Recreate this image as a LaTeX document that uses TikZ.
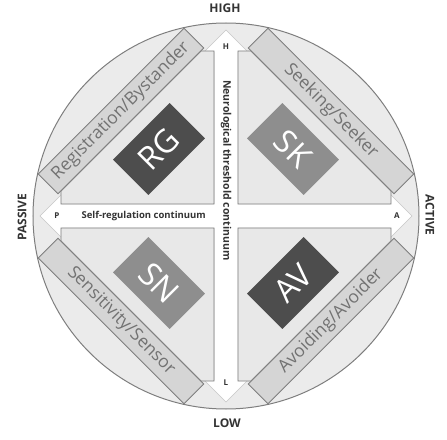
\documentclass[tikz,border=0pt]{standalone}
\usepackage{fontspec}
\setmainfont{Open Sans}

\definecolor{fondo}{HTML}{EBEBEB}
\definecolor{quadro}{HTML}{E8E8E8}
\definecolor{grigiofascia}{HTML}{D5D5D5}
\definecolor{bordo}{HTML}{7E7E7E}
\definecolor{scuro}{HTML}{4D4D4D}
\definecolor{medio}{HTML}{8E8E8E}
\definecolor{testofascia}{HTML}{727272}
\definecolor{etichetta}{HTML}{333333}

\begin{document}
\begin{tikzpicture}[x=1pt, y=1pt]
        
        % Margini della figura
        \useasboundingbox (-226,-223) rectangle (221,216);
        
        % Stili per quadranti, fasce, blocchi ed etichette
        \tikzset{
            quadrante/.style={draw=bordo, fill=quadro, line width=0.9pt},
            fascia/.style={draw=bordo, fill=grigiofascia, line width=0.9pt, minimum width=206, minimum height=28, inner sep=0pt, text=testofascia, font=\fontsize{17.5}{18}\selectfont},
            blocco/.style={minimum width=80, minimum height=50, inner sep=0pt, text=white, font=\fontsize{32}{32}\selectfont},
            asse/.style={font=\bfseries\fontsize{12}{12}\selectfont, text=etichetta},
            lettera/.style={font=\bfseries\fontsize{8}{8}\selectfont, text=etichetta},
            continuum/.style={font=\bfseries\fontsize{9.5}{10}\selectfont, text=etichetta, inner sep=0pt}
        }
        
        % Cerchio di sfondo
        \draw[bordo, fill=fondo, line width=1pt] (0,0) circle (193);
        
        % Freccia doppia bianca: i due assi
        \draw[gray!45, fill=white, line width=0.5pt]
            (-186,0) -- (-164,22) -- (-164,12) -- (-12,12) -- (-12,164) -- (-22,164) -- (0,186)
            -- (22,164) -- (12,164) -- (12,12) -- (164,12) -- (164,22) -- (186,0)
            -- (164,-22) -- (164,-12) -- (12,-12) -- (12,-164) -- (22,-164) -- (0,-186)
            -- (-22,-164) -- (-12,-164) -- (-12,-12) -- (-164,-12) -- (-164,-22) -- cycle;
        
        % Quadranti con l'angolo tagliato dalla fascia
        \foreach \sx/\sy in {-1/1, 1/1, -1/-1, 1/-1} {
            \draw[quadrante] ({12*\sx},{12*\sy}) -- ({165*\sx},{12*\sy}) -- ({165*\sx},{25*\sy})
                -- ({25*\sx},{165*\sy}) -- ({12*\sx},{165*\sy}) -- cycle;
        }
        
        % Fasce diagonali
        \node[fascia, rotate=45]  (regBys) at (-105, 105) {Registration/Bystander};
        \node[fascia, rotate=-45] (seeSee) at (105, 105)  {Seeking/Seeker};
        \node[fascia, rotate=-45] (senSen) at (-105,-105) {Sensitivity/Sensor};
        \node[fascia, rotate=45]  (avoAvo) at (105,-105)  {Avoiding/Avoider};
        
        % Blocchi dei quattro profili
        \node[blocco, fill=scuro, rotate=45]  (RG) at (-67, 67) {RG};
        \node[blocco, fill=medio, rotate=-45] (SK) at (67, 67)  {SK};
        \node[blocco, fill=medio, rotate=-45] (SN) at (-67,-67) {SN};
        \node[blocco, fill=scuro, rotate=45]  (AV) at (67,-67)  {AV};
        
        % Nomi dei due continuum
        \node[continuum, anchor=east] (autoReg) at (-20, 0) {Self-regulation continuum};
        \node[continuum, rotate=-90, anchor=west, font=\bfseries\fontsize{10.5}{11}\selectfont] (soglia) at (0, 136) {Neurological threshold continuum};
        
        % Lettere alle punte della freccia
        \node[lettera] (P) at (-169, 0) {P};
        \node[lettera] (A) at (171, 0)  {A};
        \node[lettera] (H) at (0, 169)  {H};
        \node[lettera] (L) at (0, -167) {L};
        
        % Etichette esterne
        \node[asse] (alto) at (-1, 208) {HIGH};
        \node[asse] (basso) at (1, -207) {LOW};
        \node[asse, rotate=90]  (passivo) at (-204, -1) {PASSIVE};
        \node[asse, rotate=-90] (attivo) at (204, 1)    {ACTIVE};
        
    \end{tikzpicture}
\end{document}
